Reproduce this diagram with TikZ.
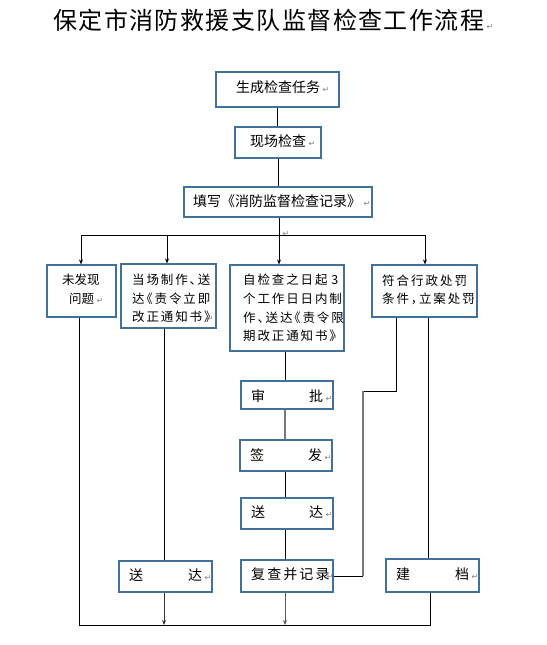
\documentclass[tikz,border=0pt]{standalone}
\usepackage{fontspec}
\setmainfont{Noto Sans CJK SC}
\newfontfamily\symf{DejaVu Sans}
\newfontfamily\titlef[LetterSpace=6]{Noto Sans CJK SC}
\newfontfamily\halff[RawFeature=+halt]{Noto Sans CJK SC}
\usetikzlibrary{arrows.meta}
\definecolor{boxblue}{RGB}{65,113,156}
\definecolor{retgray}{RGB}{128,128,128}
\definecolor{lgray}{RGB}{120,120,120}
\newcommand\retg{{\symf\fontsize{8}{8}\selectfont\textcolor{retgray}{↵}}}
\newcommand\ret{\kern2.5pt\retg}
\newcommand\spr[2]{\makebox[#1pt][s]{#2}}
\newcommand\hp[1]{{\halff #1}}
\begin{document}
\begin{tikzpicture}[x=1pt,y=-1pt,
  box/.style={draw=boxblue,line width=1.2pt,inner sep=0pt},
  txt/.style={inner sep=0pt,anchor=west,font=\fontsize{14}{19}\selectfont},
  mtxt/.style={inner sep=0pt,anchor=west,align=left,font=\fontsize{12.5}{18.7}\selectfont},
  retn/.style={inner sep=0pt,anchor=west},
  conn/.style={line width=0.9pt,black},
  gconn/.style={line width=1.1pt,lgray},
  arr/.style={line width=0.9pt,-{Stealth[length=5pt,width=4pt]}}]
\useasboundingbox (0,0) rectangle (546,645);

% title
\node[inner sep=0pt,anchor=west] (title) at (53,20)
  {\titlef\fontsize{24}{24}\selectfont 保定市消防救援支队监督检查工作流程\ret};

% boxes
\node[box,minimum width=123pt,minimum height=35pt] (b1) at (277.5,89.5) {};
\node[box,minimum width=86pt,minimum height=31pt] (b2) at (278,142.5) {};
\node[box,minimum width=188pt,minimum height=30pt] (b3) at (278,202) {};
\node[box,minimum width=69pt,minimum height=52pt] (c1) at (81.5,291) {};
\node[box,minimum width=95pt,minimum height=64pt] (c2) at (168.5,296) {};
\node[box,minimum width=114pt,minimum height=86pt] (c3) at (287,308) {};
\node[box,minimum width=105pt,minimum height=52pt] (c4) at (424.5,291) {};
\node[box,minimum width=92pt,minimum height=28pt] (s1) at (287,395) {};
\node[box,minimum width=92pt,minimum height=31pt] (s2) at (286,455.5) {};
\node[box,minimum width=92pt,minimum height=31pt] (s3) at (287,513.5) {};
\node[box,minimum width=92pt,minimum height=32pt] (s4) at (287,576) {};
\node[box,minimum width=93pt,minimum height=31pt] (d2) at (165.5,576.5) {};
\node[box,minimum width=93pt,minimum height=33pt] (d4) at (432.5,575.5) {};

% texts
\node[txt] (tb1) at (236,87.5) {生成检查任务\ret};
\node[txt] (tb2) at (250,141) {现场检查\ret};
\node[txt] (tb3) at (193,200.7) {填写《消防监督检查记录》\ret};
\node[mtxt] (tc1) at (62,289.5) {未发现\\\hspace{7pt}问题\ret};
\node[mtxt] (tc2) at (132,298.5)
  {\spr{76}{当 场 制 作 \hp{、} 送}\\
   \spr{76}{达 \hp{《} 责 令 立 即}\\
   \spr{72}{改 正 通 知 书 \hp{》}}};
\node[retn] (r2) at (206.5,318.5) {\retg};
\node[mtxt] (tc3) at (243,308)
  {\spr{89}{自 检 查 之 日 起 \ 3}\\
   \spr{89}{个 工 作 日 日 内 制}\\
   \spr{89}{作 \hp{、} 送 达 \hp{《} 责 令 限}\\
   \spr{85}{期 改 正 通 知 书 \hp{》}}};
\node[retn] (r3) at (330.5,337.5) {\retg};
\node[mtxt] (tc4) at (382,290)
  {\spr{85}{符 合 行 政 处 罚}\\
   \spr{84}{条 件 \hp{，} 立 案 处 罚}};
\node[retn] (r4) at (468.5,300) {\retg};
\node[txt] (ts1) at (251,396) {\spr{72}{审 批}\ret};
\node[txt] (ts2) at (250,455) {\spr{72}{签 发}\ret};
\node[txt] (ts3) at (251,512.5) {\spr{72}{送 达}\ret};
\node[txt] (ts4) at (251,574) {\spr{73}{复 查 并 记 录}\ret};
\node[txt] (td2) at (129,575) {\spr{73}{送 达}\ret};
\node[txt] (td4) at (396,574) {\spr{73}{建 档}\ret};
\node[inner sep=0pt] (stray) at (286,234) {\retg};

% coordinates
\coordinate (j) at (279,235);
\coordinate (jl) at (81,235);
\coordinate (j2) at (167,235);
\coordinate (jr) at (425,235);
\coordinate (bl) at (79,625);
\coordinate (br) at (430,625);
\coordinate (k2) at (164,625);
\coordinate (k3) at (285,625);
\coordinate (k4a) at (396,391);
\coordinate (k4b) at (363,391);
\coordinate (k4c) at (428,560);

% top connectors
\draw[conn] (b1.south) -- (b1.south |- b2.north);
\draw[conn] (b2.south) -- (b2.south |- b3.north);
\draw[conn] (j |- b3.south) -- (j);
\draw[conn] (jl) -- (jr);
\draw[arr] (jl) -- (jl |- c1.north);
\draw[arr] (j2) -- (j2 |- c2.north);
\draw[arr] (j) -- (j |- c3.north);
\draw[arr] (jr) -- (jr |- c4.north);

% column 1 and bottom line
\draw[conn] (bl |- c1.south) -- (bl) -- (br) -- (br |- d4.south);

% column 2
\draw[conn] (k2 |- c2.south) -- (k2 |- d2.north);
\draw[arr,black!80] (k2 |- d2.south) -- (k2);

% column 3
\draw[conn] (k3 |- c3.south) -- (k3 |- s1.north);
\draw[gconn] (k3 |- s1.south) -- (k3 |- s2.north);
\draw[conn] (k3 |- s2.south) -- (k3 |- s3.north);
\draw[conn] (k3 |- s3.south) -- (k3 |- s4.north);
\draw[arr,black!65] (k3 |- s4.south) -- (k3);

% column 4
\draw[conn] (k4a |- c4.south) -- (k4a) -- (k4b);
\draw[gconn] (k4b) -- (k4b |- s4.east);
\draw[conn] (k4b |- s4.east) -- (s4.east);
\draw[conn] (k4c |- c4.south) -- (k4c |- d4.north);
\end{tikzpicture}
\end{document}
